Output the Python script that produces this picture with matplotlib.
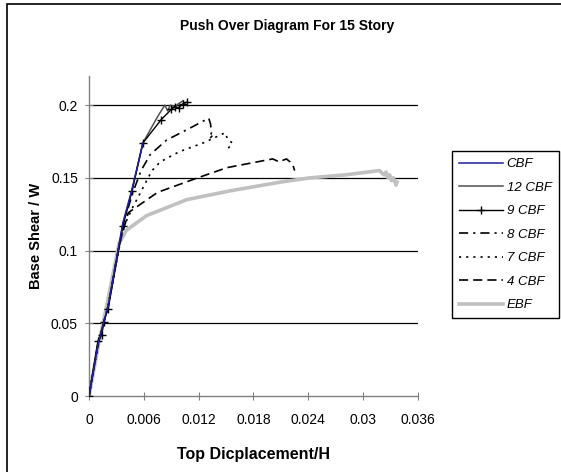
import matplotlib
matplotlib.use("Agg")
import matplotlib.pyplot as plt
from matplotlib.patches import Rectangle

# ---- data ----
cbf_x = [0.0, 0.0010, 0.0021, 0.0037, 0.0047, 0.0059]
cbf_y = [0.0, 0.036, 0.062, 0.119, 0.142, 0.174]

cbf12_x = [0.0, 0.0010, 0.0021, 0.0037, 0.0047, 0.0059, 0.0075, 0.0083, 0.0086, 0.0089, 0.0094, 0.0098, 0.0103]
cbf12_y = [0.0, 0.036, 0.062, 0.117, 0.141, 0.174, 0.192, 0.200, 0.196, 0.200, 0.199, 0.201, 0.203]

cbf9_x = [0.0, 0.00098, 0.0014, 0.0016, 0.0021, 0.0037, 0.0047, 0.0059, 0.0079, 0.0090, 0.0094, 0.0098, 0.0103, 0.0107]
cbf9_y = [0.0, 0.038, 0.042, 0.051, 0.060, 0.117, 0.141, 0.174, 0.190, 0.197, 0.199, 0.198, 0.201, 0.202]

cbf8_x = [0.0, 0.0010, 0.0021, 0.0037, 0.0048, 0.0057, 0.0067, 0.0085, 0.0110, 0.0131, 0.0133, 0.0134, 0.0132, 0.0135]
cbf8_y = [0.0, 0.036, 0.062, 0.117, 0.140, 0.155, 0.166, 0.176, 0.184, 0.191, 0.187, 0.181, 0.177, 0.179]

cbf7_x = [0.0, 0.0010, 0.0021, 0.0037, 0.0048, 0.0054, 0.0063, 0.0069, 0.0078, 0.0099, 0.0125, 0.0149, 0.0152, 0.0157, 0.0152]
cbf7_y = [0.0, 0.036, 0.062, 0.115, 0.130, 0.137, 0.148, 0.155, 0.161, 0.168, 0.174, 0.181, 0.176, 0.174, 0.170]

cbf4_x = [0.0, 0.0010, 0.0021, 0.0033, 0.0043, 0.0075, 0.0119, 0.0151, 0.0201, 0.0208, 0.0216, 0.0220, 0.0223, 0.0225]
cbf4_y = [0.0, 0.036, 0.062, 0.104, 0.126, 0.140, 0.150, 0.157, 0.163, 0.161, 0.163, 0.161, 0.159, 0.155]

ebf_x = [0.0, 0.0010, 0.0020, 0.0033, 0.0041, 0.0063, 0.0107, 0.0154, 0.0209, 0.0242, 0.0280, 0.0318,
         0.0321, 0.0323, 0.0325, 0.0327, 0.0329, 0.0331, 0.0333, 0.0336, 0.0337]
ebf_y = [0.0, 0.034, 0.064, 0.105, 0.114, 0.124, 0.135, 0.141, 0.147, 0.150, 0.152, 0.155,
         0.153, 0.152, 0.154, 0.150, 0.152, 0.148, 0.150, 0.145, 0.147]

x_ticks = [0, 0.006, 0.012, 0.018, 0.024, 0.03, 0.036]
x_tick_labels = ["0", "0.006", "0.012", "0.018", "0.024", "0.03", "0.036"]
y_ticks = [0, 0.05, 0.1, 0.15, 0.2]
y_tick_labels = ["0", "0.05", "0.1", "0.15", "0.2"]

title = "Push Over Diagram For 15 Story"
xlabel = "Top Dicplacement/H"
ylabel = "Base Shear / W"

plt.rcParams['font.family'] = ['Liberation Sans', 'DejaVu Sans']

W, H = 561, 472
fig = plt.figure(figsize=(W / 100, H / 100), dpi=100)
ax = fig.add_axes([89 / W, 1 - 396 / H, (418 - 89) / W, (396 - 76) / H])

# outer chart border
fig.patches.append(Rectangle((7 / W, -0.05), 1.2, (H - 4) / H + 0.05, transform=fig.transFigure,
                             fill=False, edgecolor='black', linewidth=1.2, zorder=0))

ax.set_xlim(0, 0.036)
ax.set_ylim(0, 0.22)
for y in y_ticks[1:]:
    ax.axhline(y, color='#000000', linewidth=0.9, zorder=1)

l_ebf, = ax.plot(ebf_x, ebf_y, color='#c0c0c0', lw=2.6, zorder=2)
l_4, = ax.plot(cbf4_x, cbf4_y, color='black', lw=1.2, ls=(0, (5.5, 3)), zorder=3)
l_7, = ax.plot(cbf7_x, cbf7_y, color='black', lw=1.2, ls=(0, (1.3, 3)), zorder=3)
l_8, = ax.plot(cbf8_x, cbf8_y, color='black', lw=1.2, ls=(0, (5.5, 3, 1.3, 3)), zorder=3)
l_12, = ax.plot(cbf12_x, cbf12_y, color='#505050', lw=1.1, zorder=4)
l_9, = ax.plot(cbf9_x, cbf9_y, color='black', lw=1.0, marker='+', ms=6, mew=1.0, zorder=5)
l_cbf, = ax.plot(cbf_x, cbf_y, color='#1f1f9a', lw=1.1, zorder=6)

ax.set_xticks(x_ticks)
ax.set_xticklabels(x_tick_labels)
ax.set_yticks(y_ticks)
ax.set_yticklabels(y_tick_labels)
ax.tick_params(axis='both', direction='inout', length=6, width=0.8, color='#808080', labelsize=10, pad=5)
ax.tick_params(axis='x', pad=9)
for s in ['top', 'right']:
    ax.spines[s].set_visible(False)
for s in ['left', 'bottom']:
    ax.spines[s].set_color('#808080')
    ax.spines[s].set_linewidth(1.0)
ax.set_xlabel(xlabel, fontsize=11.5, fontweight='bold', labelpad=15)
ax.set_ylabel(ylabel, fontsize=10.5, fontweight='bold', labelpad=6)
fig.text(287 / W, 1 - 26 / H, title, ha='center', va='center', fontsize=10, fontweight='bold')

handles = [l_cbf, l_12, l_9, l_8, l_7, l_4, l_ebf]
labels = ["CBF", "12 CBF", "9 CBF", "8 CBF", "7 CBF", "4 CBF", "EBF"]
leg = fig.legend(handles, labels, loc='upper left', bbox_to_anchor=(452 / W, 1 - 151 / H),
                 frameon=True, fancybox=False, framealpha=1, edgecolor='black',
                 prop={'style': 'italic', 'size': 9.5}, handlelength=3.3, labelspacing=0.85,
                 borderpad=0.55, handletextpad=0.3, borderaxespad=0)
leg.get_frame().set_linewidth(1.0)

fig.savefig("out.png", dpi=100)
